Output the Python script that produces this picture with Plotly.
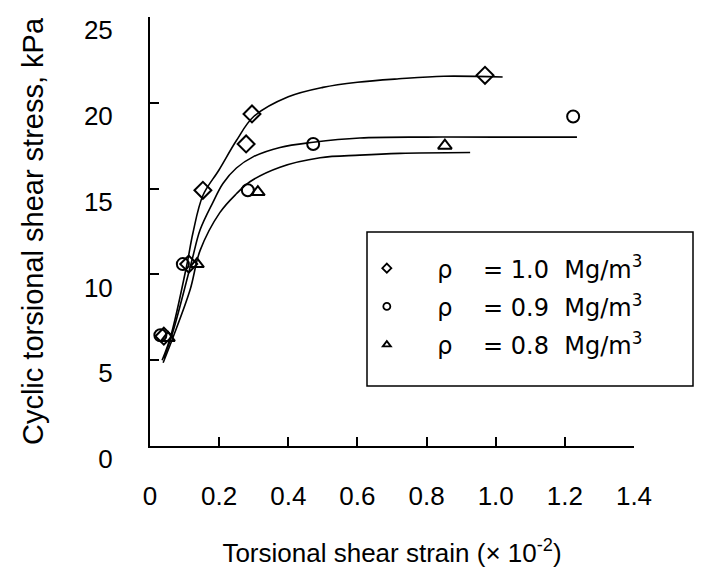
import plotly.graph_objects as go

# Measured points: torsional shear strain (x 10^-2) vs cyclic torsional shear stress (kPa)
strain_10 = [0.040, 0.112, 0.153, 0.278, 0.295, 0.969]
stress_10 = [6.4, 10.6, 14.9, 17.6, 19.35, 21.6]

strain_09 = [0.030, 0.095, 0.283, 0.472, 1.224]
stress_09 = [6.45, 10.6, 14.9, 17.6, 19.2]

strain_08 = [0.052, 0.136, 0.312, 0.853]
stress_08 = [6.3, 10.6, 14.8, 17.5]

# Fitted curves, one per density
fit_x_10 = [0.035, 0.060, 0.107, 0.124, 0.153, 0.200, 0.250, 0.300, 0.400, 0.500, 0.600, 0.720, 0.850, 1.020]
fit_y_10 = [5.0, 6.4, 10.6, 12.4, 14.6, 16.1, 17.8, 19.2, 20.35, 20.9, 21.2, 21.4, 21.55, 21.5]

fit_x_09 = [0.040, 0.067, 0.121, 0.145, 0.182, 0.211, 0.250, 0.298, 0.376, 0.472, 0.607, 0.800, 1.000, 1.235]
fit_y_09 = [5.1, 6.7, 10.8, 12.6, 14.2, 15.3, 16.2, 16.85, 17.4, 17.7, 17.95, 18.0, 18.0, 18.0]

fit_x_08 = [0.038, 0.067, 0.116, 0.145, 0.202, 0.250, 0.289, 0.376, 0.492, 0.607, 0.723, 0.926]
fit_y_08 = [4.85, 6.35, 9.1, 11.4, 13.6, 14.7, 15.4, 16.25, 16.8, 16.95, 17.05, 17.1]

x_tick_vals = [0, 0.2, 0.4, 0.6, 0.8, 1.0, 1.2, 1.4]
x_tick_text = ["0", "0.2", "0.4", "0.6", "0.8", "1.0", "1.2", "1.4"]
y_tick_vals = [0, 5, 10, 15, 20, 25]

legend_labels = [
    "    \u03c1    = 1.0  Mg/m<sup>3</sup>",
    "    \u03c1    = 0.9  Mg/m<sup>3</sup>",
    "    \u03c1    = 0.8  Mg/m<sup>3</sup>",
]

FONT = "Liberation Sans, Arial, sans-serif"
LEGEND_FONT = "DejaVu Sans, sans-serif"
BLACK = "black"

series = [
    (strain_10, stress_10, fit_x_10, fit_y_10, "diamond-open", 13),
    (strain_09, stress_09, fit_x_09, fit_y_09, "circle-open", 12),
    (strain_08, stress_08, fit_x_08, fit_y_08, "triangle-up-open", 12),
]

fig = go.Figure()

for i, (sx, sy, fx, fy, sym, size) in enumerate(series):
    fig.add_trace(go.Scatter(
        x=fx, y=fy, mode="lines", line=dict(color=BLACK, width=1.6, shape="spline", smoothing=1.0),
        showlegend=False, hoverinfo="skip",
    ))
    fig.add_trace(go.Scatter(
        x=sx, y=sy, mode="markers",
        marker=dict(symbol=sym, size=size, color=BLACK, line=dict(color=BLACK, width=2)),
        showlegend=False,
    ))
    # small legend symbol
    fig.add_trace(go.Scatter(
        x=[None], y=[None], mode="markers", name=legend_labels[i], legendgroup=f"g{i}",
        marker=dict(symbol=sym, size=7, color=BLACK, line=dict(color=BLACK, width=1.8)),
    ))

axis_common = dict(
    showline=True, linecolor=BLACK, linewidth=2, mirror=False,
    ticks="inside", ticklen=9, tickwidth=2, tickcolor=BLACK,
    showgrid=False, zeroline=False,
    tickfont=dict(family=FONT, size=26, color=BLACK),
)

fig.update_layout(
    width=707, height=582,
    margin=dict(l=150, r=73, t=17, b=136),
    paper_bgcolor="white", plot_bgcolor="white",
    xaxis=dict(
        range=[0, 1.4], tickmode="array", tickvals=x_tick_vals, ticktext=x_tick_text,
        ticklabelstandoff=26,
        title=dict(text="Torsional shear strain (\u00d7 10<sup>-2</sup>)",
                   font=dict(family=FONT, size=26, color=BLACK), standoff=34),
        **axis_common,
    ),
    yaxis=dict(
        range=[0, 25], tickmode="array", tickvals=y_tick_vals,
        ticklabelstandoff=30, ticklabelshift=13,
        title=dict(text="Cyclic torsional shear stress, kPa",
                   font=dict(family=FONT, size=29, color=BLACK), standoff=32),
        **axis_common,
    ),
    showlegend=True,
    legend=dict(
        x=0.448, y=0.466, xanchor="left", yanchor="top",
        bgcolor="rgba(0,0,0,0)", borderwidth=0,
        font=dict(family=LEGEND_FONT, size=24, color=BLACK),
        tracegroupgap=4, traceorder="grouped",
    ),
    shapes=[dict(
        type="rect", xref="paper", yref="paper",
        x0=(367 - 150) / 484, x1=(693 - 150) / 484,
        y0=(446 - 386) / 429, y1=(446 - 232) / 429,
        line=dict(color=BLACK, width=1.5), fillcolor="rgba(0,0,0,0)",
    )],
)

fig.write_html("out.html")
